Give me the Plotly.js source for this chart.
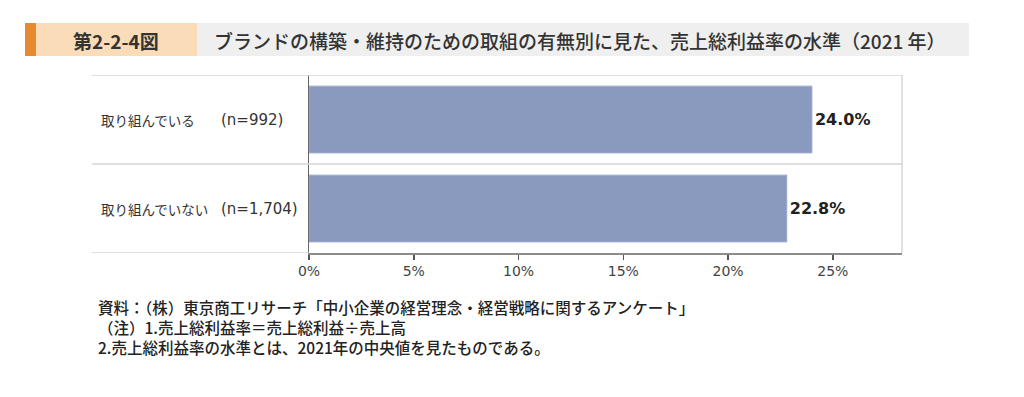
<!DOCTYPE html>
<html>
<head>
<meta charset="utf-8">
<script src="https://cdn.plot.ly/plotly-3.0.1.min.js"></script>
<style>
html,body{margin:0;padding:0;background:#fff;}
#chart{width:1024px;height:397px;}
</style>
</head>
<body>
<div id="chart"></div>
<script>
// ---- data ----
const categories = ['取り組んでいる', '取り組んでいない'];
const sampleSizes = ['(n=992)', '(n=1,704)'];
const values = [24.0, 22.8];
const tickValues = [0, 5, 10, 15, 20, 25];
const tickLabels = ['0%', '5%', '10%', '15%', '20%', '25%'];
const figureNumber = '第2-2-4図';
const figureTitle = 'ブランドの構築・維持のための取組の有無別に見た、売上総利益率の水準（2021 年）';
const noteLines = [
  '資料：（株）東京商工リサーチ「中小企業の経営理念・経営戦略に関するアンケート」',
  '（注）1.売上総利益率＝売上総利益÷売上高',
  '2.売上総利益率の水準とは、2021年の中央値を見たものである。'
];

// ---- layout geometry (pixels) ----
const W = 1024, H = 397;
const L = 309, R = 902, T = 75, B = 253;
const pw = R - L, ph = B - T;
const px = x => (x - L) / pw;
const py = y => (B - y) / ph;

const jp = '"Noto Sans CJK JP", "Noto Sans", sans-serif';
const num = '"DejaVu Sans", Verdana, sans-serif';

const trace = {
  type: 'bar',
  orientation: 'h',
  y: categories,
  x: values,
  marker: {color: '#8a9abf', line: {color: '#9aa9cc', width: 1}},
  text: values.map(v => v.toFixed(1) + '%'),
  textposition: 'outside',
  textfont: {family: num, size: 16, color: '#222', weight: 'bold'},
  cliponaxis: false,
  hoverinfo: 'none'
};

const shapes = [
  // header blocks
  {type: 'rect', xref: 'paper', yref: 'paper', x0: px(25), x1: px(36), y0: py(56), y1: py(23), fillcolor: '#e58a2e', line: {width: 0}, layer: 'below'},
  {type: 'rect', xref: 'paper', yref: 'paper', x0: px(36), x1: px(197), y0: py(56), y1: py(23), fillcolor: '#fadcb8', line: {width: 0}, layer: 'below'},
  {type: 'rect', xref: 'paper', yref: 'paper', x0: px(197), x1: px(969), y0: py(56), y1: py(23), fillcolor: '#efefef', line: {width: 0}, layer: 'below'},
  // right border
  {type: 'line', xref: 'paper', yref: 'paper', x0: 1, x1: 1, y0: 0, y1: 1, line: {color: '#d6d6d6', width: 1.5}}
];
// row separators at category boundaries
for (let i = 0; i <= categories.length; i++) {
  shapes.push({type: 'line', xref: 'paper', yref: 'y', x0: px(92), x1: (i === categories.length ? 0 : 1),
    y0: i - 0.5, y1: i - 0.5, line: {color: '#d6d6d6', width: 1.5}});
}

const annotations = [];
categories.forEach((c, i) => {
  annotations.push({xref: 'paper', yref: 'y', x: px(99), y: c, text: c, showarrow: false,
    xanchor: 'left', yanchor: 'middle', font: {family: jp, size: 13.5, color: '#333'}});
  annotations.push({xref: 'paper', yref: 'y', x: px(219), y: c, text: sampleSizes[i], showarrow: false,
    xanchor: 'left', yanchor: 'middle', font: {family: num, size: 15, color: '#333'}});
});
annotations.push({xref: 'paper', yref: 'paper', x: px(116), y: py(40), text: figureNumber, showarrow: false,
  xanchor: 'center', yanchor: 'middle', font: {family: jp, size: 19, color: '#333', weight: 'bold'}});
annotations.push({xref: 'paper', yref: 'paper', x: px(212), y: py(40), text: figureTitle, showarrow: false,
  xanchor: 'left', yanchor: 'middle', font: {family: jp, size: 19, color: '#333', weight: 500}});
annotations.push({xref: 'paper', yref: 'paper', x: px(96), y: py(327), text: noteLines.join('<br>'), showarrow: false,
  xanchor: 'left', yanchor: 'middle', align: 'left', font: {family: jp, size: 15.5, color: '#222', weight: 500}});

const layout = {
  width: W, height: H,
  margin: {l: L, r: W - R, t: T, b: H - B, pad: 0},
  paper_bgcolor: '#fff', plot_bgcolor: '#fff',
  showlegend: false,
  bargap: 0.25,
  xaxis: {
    range: [0, 28.3], tickvals: tickValues, ticktext: tickLabels,
    showgrid: false, zeroline: false,
    showline: true, linecolor: '#8c8c8c', linewidth: 1.5,
    ticks: 'outside', ticklen: 5, tickcolor: '#555', tickwidth: 1.5,
    tickfont: {family: num, size: 14, color: '#444'},
    fixedrange: true
  },
  yaxis: {
    type: 'category', range: [categories.length - 0.5, -0.5],
    showticklabels: false, showgrid: false, zeroline: false,
    showline: true, linecolor: '#666', linewidth: 1.5, ticks: '',
    fixedrange: true
  },
  shapes: shapes,
  annotations: annotations
};

Plotly.newPlot('chart', [trace], layout, {displayModeBar: false, staticPlot: true});
</script>
</body>
</html>
